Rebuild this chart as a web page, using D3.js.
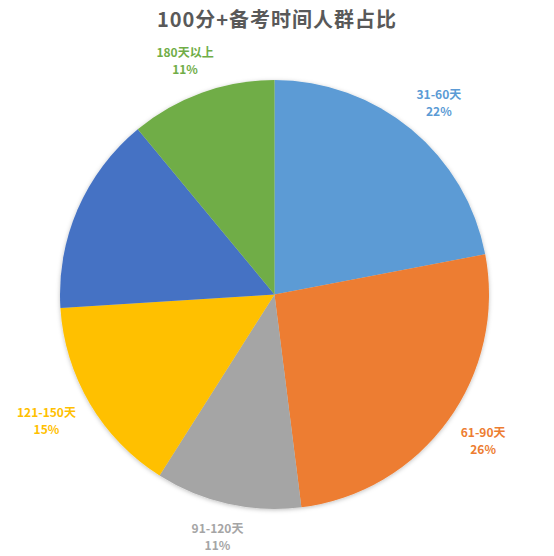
<!DOCTYPE html>
<html>
<head>
<meta charset="utf-8">
<script src="https://cdn.jsdelivr.net/npm/d3@7"></script>
<style>
    html, body { margin: 0; padding: 0; background: #fff; }
    svg { display: block; font-family: "Noto Sans CJK SC", "Noto Sans", sans-serif; }
</style>
</head>
<body>
<div id="chart"></div>
<script>
(function() {
    'use strict';

    var title = '100分+备考时间人群占比';
    var categories = ['31-60天', '61-90天', '91-120天', '121-150天', '151-180天', '180天以上'];
    var shares = [22, 26, 11, 15, 15, 11];
    var colors = ['#5B9BD5', '#ED7D31', '#A5A5A5', '#FFC000', '#4472C4', '#70AD47'];
    // Excel hid the label of the dark blue slice
    var showLabel = [true, true, true, true, false, true];

    var width = 554, height = 556;
    var cx = 274.5, cy = 294.5, radius = 214.5, labelGap = 21;
    var lineGap = 17, labelHalfHeight = 13;

    var svg = d3.select('#chart')
        .append('svg')
        .attr('width', width)
        .attr('height', height);

    // soft shadow under the pie
    var filter = svg.append('defs').append('filter')
        .attr('id', 'shadow')
        .attr('x', '-20%').attr('y', '-20%')
        .attr('width', '140%').attr('height', '140%');
    filter.append('feDropShadow')
        .attr('dx', 0).attr('dy', 1)
        .attr('stdDeviation', 2)
        .attr('flood-color', '#000')
        .attr('flood-opacity', 0.25);

    svg.append('text')
        .attr('x', 277)
        .attr('y', 27)
        .attr('text-anchor', 'middle')
        .style('font-size', '20px')
        .style('letter-spacing', '1px')
        .style('font-weight', 'bold')
        .style('fill', '#595959')
        .text(title);

    var data = categories.map(function(c, i) {
        return { name: c, value: shares[i], color: colors[i], label: showLabel[i] };
    });

    var pie = d3.pie()
        .sort(null)
        .value(function(d) { return d.value; });

    var arc = d3.arc()
        .innerRadius(0)
        .outerRadius(radius);

    var total = d3.sum(shares);
    var arcs = pie(data);

    var g = svg.append('g')
        .attr('transform', 'translate(' + cx + ',' + cy + ')');

    g.append('g')
        .attr('filter', 'url(#shadow)')
        .selectAll('path')
        .data(arcs)
        .enter().append('path')
        .attr('d', arc)
        .style('fill', function(d) { return d.data.color; });

    var labels = g.selectAll('g.label')
        .data(arcs.filter(function(d) { return d.data.label; }))
        .enter().append('g')
        .attr('class', 'label')
        .style('fill', function(d) { return d.data.color; })
        .style('font-size', '12px')
        .style('font-weight', 'bold')
        .attr('text-anchor', 'middle');

    // two lines, visually centred on y = 0
    labels.append('text')
        .attr('y', -lineGap / 2 + 4.5)
        .text(function(d) { return d.data.name; });

    labels.append('text')
        .attr('y', lineGap / 2 + 4.5)
        .text(function(d) { return Math.round(100 * d.data.value / total) + '%'; });

    // outside-end placement: push the label box out along the slice's mid angle
    labels.attr('transform', function(d) {
        var w = this.getBBox().width;
        var a = (d.startAngle + d.endAngle) / 2;
        var s = Math.sin(a), c = -Math.cos(a);
        var r = radius + labelGap;
        var x = r * s + s * w / 2;
        var y = r * c + c * labelHalfHeight;
        return 'translate(' + x + ',' + y + ')';
    });
})();
</script>
</body>
</html>
